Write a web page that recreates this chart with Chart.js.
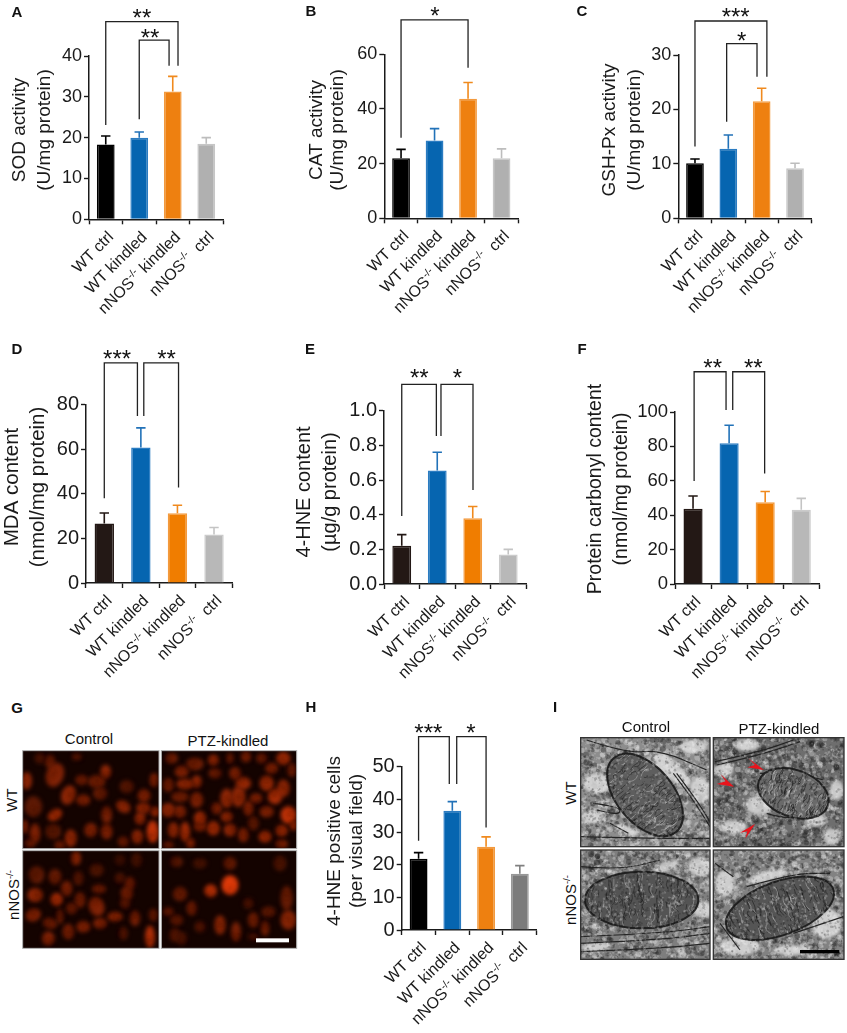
<!DOCTYPE html>
<html>
<head>
<meta charset="utf-8">
<title>Oxidative stress panels</title>
<script src="https://cdn.jsdelivr.net/npm/chart.js@4"></script>
<style>
    html, body { margin: 0; padding: 0; background: #fff; }
    #page { position: relative; width: 847px; height: 1033px; overflow: hidden; font-family: "Liberation Sans", Arial, sans-serif; color: #111; }
    #page canvas { position: absolute; }
    .letter { position: absolute; font-weight: bold; font-size: 15px; transform: translate(-50%, -50%); }
    .cap { position: absolute; font-size: 15px; white-space: nowrap; transform: translate(-50%, -50%); }
    .cap.rot { transform: translate(-50%, -50%) rotate(-90deg); }
    .cap sup { font-size: 9.5px; line-height: 0; }
</style>
</head>
<body>
<div id="page"></div>
<script>
// Categories, same four groups on every bar panel
const groups = ['WT ctrl', 'WT kindled', 'nNOS-/- kindled', 'nNOS-/-  ctrl'];

// Bar heights and top of the error bars
const sodMeans = [18.3, 20, 31.3, 18.5];
const sodTops = [20.4, 21.4, 35, 20];
const catMeans = [22, 28.5, 43.7, 22];
const catTops = [25.2, 32.8, 49.7, 25.4];
const gshMeans = [10.1, 12.8, 21.5, 9.2];
const gshTops = [10.9, 15.3, 23.9, 10.1];
const mdaMeans = [26.7, 60.8, 31.3, 21.8];
const mdaTops = [31.4, 69.6, 34.9, 24.9];
const hneMeans = [0.22, 0.655, 0.38, 0.17];
const hneTops = [0.285, 0.76, 0.447, 0.2];
const carbonylMeans = [43.8, 81.8, 47.5, 43.2];
const carbonylTops = [51.2, 92.3, 53.8, 49.8];
const cellMeans = [21.8, 36.5, 25.5, 17.2];
const cellTops = [23.7, 39.3, 28.5, 19.7];

// Significance brackets: from, to (category), top, left end, right end (axis units)
const sodBrackets = [[0, 2.157, 48.4, 23.1, 37.6], [1, 1.89, 43.9, 24.5, 37.6]];
const catBrackets = [[0, 2, 72.6, 29.5, 55.1]];
const gshBrackets = [[0, 2.156, 36.25, 13.2, 26], [0.95, 1.86, 32.1, 17.75, 26]];
const mdaBrackets = [[0, 0.906, 98.8, 38, 74.9], [1.08, 2.03, 98.8, 74.9, 42.9]];
const hneBrackets = [[0, 0.975, 1.152, 0.392, 0.854], [1.105, 2.007, 1.152, 0.854, 0.542]];
const carbonylBrackets = [[0.03, 0.915, 123.4, 59.9, 101.2], [1.1, 1.985, 123.4, 101.2, 64.3]];
const cellBrackets = [[0, 0.91, 59.2, 27.3, 44.7], [1.13, 2, 59.2, 44.7, 31.4]];

// Stars: text, category position, height in axis units
const sodStars = [['**', 1.08, 50.6], ['**', 1.32, 45.7]];
const catStars = [['*', 1.01, 76.2]];
const gshStars = [['***', 1.22, 38.1], ['*', 1.4, 33.7]];
const mdaStars = [['***', 0.35, 103.2], ['**', 1.7, 103.2]];
const hneStars = [['**', 0.495, 1.22], ['*', 1.565, 1.22]];
const carbonylStars = [['**', 0.545, 128.9], ['**', 1.67, 128.9]];
const cellStars = [['***', 0.29, 62.2], ['*', 1.55, 62.2]];

// Colours
const fillA = ['#000000', '#0665b0', '#ee8010', '#b0b0b0'];
const edgeA = ['#000000', '#2b7cc2', '#f39a3e', '#c6c6c6'];
const errA = ['#000000', '#2272b8', '#f08a1e', '#bdbdbd'];
const fillD = ['#231815', '#0665b0', '#f07d00', '#b8b8b8'];
const edgeD = ['#231815', '#2b7cc2', '#f39a3e', '#cbcbcb'];
const errD = ['#231815', '#2272b8', '#f08a1e', '#c4c4c4'];
const fillH = ['#000000', '#0665b0', '#ee8010', '#7b7b7b'];
const edgeH = ['#000000', '#2b7cc2', '#f39a3e', '#989898'];
const errH = ['#000000', '#2272b8', '#f08a1e', '#808080'];

const panels = [
    { box: [0, 0, 280, 330], x0: 89, x1: 223, top: 56, bottom: 219.3, max: 40, step: 10, font: 18, titleSize: 19,
      means: sodMeans, tops: sodTops, brackets: sodBrackets, stars: sodStars, fill: fillA, edge: edgeA, err: errA,
      title: ['SOD activity', '(U/mg protein)'], titleX: [20, 45], titleY: 130 },
    { box: [280, 0, 280, 330], x0: 384.3, x1: 518.3, top: 54.3, bottom: 218.3, max: 60, step: 20, font: 18, titleSize: 19,
      means: catMeans, tops: catTops, brackets: catBrackets, stars: catStars, fill: fillA, edge: edgeA, err: errA,
      title: ['CAT activity', '(U/mg protein)'], titleX: [316.7, 338], titleY: 130 },
    { box: [560, 0, 287, 330], x0: 678.3, x1: 811.7, top: 55, bottom: 218.3, max: 30, step: 10, font: 18, titleSize: 19,
      means: gshMeans, tops: gshTops, brackets: gshBrackets, stars: gshStars, fill: fillA, edge: edgeA, err: errA,
      title: ['GSH-Px activity', '(U/mg protein)'], titleX: [610, 635], titleY: 130 },
    { box: [0, 335, 280, 350], x0: 86, x1: 232.3, top: 404.7, bottom: 583, max: 80, step: 20, font: 20, titleSize: 20.5,
      means: mdaMeans, tops: mdaTops, brackets: mdaBrackets, stars: mdaStars, fill: fillD, edge: edgeD, err: errD,
      title: ['MDA content', '(nmol/mg protein)'], titleX: [12, 38], titleY: 487 },
    { box: [280, 335, 280, 350], x0: 384, x1: 526, top: 410.7, bottom: 584, max: 1, step: 0.2, font: 20, decimals: 1, titleSize: 20,
      means: hneMeans, tops: hneTops, brackets: hneBrackets, stars: hneStars, fill: fillD, edge: edgeD, err: errD,
      title: ['4-HNE content', '(\u00b5g/g protein)'], titleX: [304, 330], titleY: 492 },
    { box: [560, 335, 287, 350], x0: 675, x1: 819.3, top: 412, bottom: 584, max: 100, step: 20, font: 18.5, titleSize: 19.5,
      means: carbonylMeans, tops: carbonylTops, brackets: carbonylBrackets, stars: carbonylStars, fill: fillD, edge: edgeD, err: errD,
      title: ['Protein carbonyl content', '(nmol/mg protein)'], titleX: [596, 622], titleY: 489 },
    { box: [300, 700, 260, 333], x0: 401.7, x1: 536.7, top: 766.7, bottom: 930, max: 50, step: 10, font: 20, titleSize: 19,
      means: cellMeans, tops: cellTops, brackets: cellBrackets, stars: cellStars, fill: fillH, edge: edgeH, err: errH,
      title: ['4-HNE positive cells', '(per visual field)'], titleX: [335, 357], titleY: 841 }
];

const page = document.getElementById('page');
const fontFamily = '"Liberation Sans", Arial, sans-serif';
const inkColor = '#1a1a1a';

function addCanvas(left, top, width, height) {
    const canvas = document.createElement('canvas');
    canvas.width = width;
    canvas.height = height;
    canvas.style.left = left + 'px';
    canvas.style.top = top + 'px';
    canvas.style.width = width + 'px';
    canvas.style.height = height + 'px';
    page.appendChild(canvas);
    return canvas;
}

// Rotated x labels, the -/- part goes up as a superscript
function drawGroupLabel(ctx, text, x, y) {
    const parts = text.split('-/-');
    const bigFont = '16px ' + fontFamily;
    const smallFont = '10.5px ' + fontFamily;
    ctx.save();
    ctx.translate(x, y);
    ctx.rotate(-Math.PI / 4);
    ctx.textAlign = 'left';
    ctx.textBaseline = 'alphabetic';
    ctx.fillStyle = inkColor;
    ctx.font = bigFont;
    let total = ctx.measureText(parts.join('')).width;
    if (parts.length > 1) {
        ctx.font = smallFont;
        total += ctx.measureText('-/-').width;
    }
    let pos = -total;
    ctx.font = bigFont;
    ctx.fillText(parts[0], pos, 5);
    pos += ctx.measureText(parts[0]).width;
    if (parts.length > 1) {
        ctx.font = smallFont;
        ctx.fillText('-/-', pos, -1);
        pos += ctx.measureText('-/-').width;
        ctx.font = bigFont;
        ctx.fillText(parts[1], pos, 5);
    }
    ctx.restore();
}

function makeBarPanel(panel) {
    const [left, top, width, height] = panel.box;
    const canvas = addCanvas(left, top, width, height);

    const extras = {
        id: 'panelExtras',
        afterDatasetsDraw(chart) {
            const ctx = chart.ctx;
            const xs = chart.scales.x;
            const ys = chart.scales.y;
            const atCat = c => xs.getPixelForValue(0) + c * (xs.getPixelForValue(1) - xs.getPixelForValue(0));

            // Error bars, upper side only
            panel.tops.forEach((value, i) => {
                const x = xs.getPixelForValue(i);
                ctx.strokeStyle = panel.err[i];
                ctx.lineWidth = 1.6;
                ctx.beginPath();
                ctx.moveTo(x, ys.getPixelForValue(panel.means[i]));
                ctx.lineTo(x, ys.getPixelForValue(value));
                ctx.moveTo(x - 4.7, ys.getPixelForValue(value));
                ctx.lineTo(x + 4.7, ys.getPixelForValue(value));
                ctx.stroke();
            });

            // Brackets
            ctx.strokeStyle = '#222';
            ctx.lineWidth = 1.3;
            panel.brackets.forEach(b => {
                ctx.beginPath();
                ctx.moveTo(atCat(b[0]), ys.getPixelForValue(b[3]));
                ctx.lineTo(atCat(b[0]), ys.getPixelForValue(b[2]));
                ctx.lineTo(atCat(b[1]), ys.getPixelForValue(b[2]));
                ctx.lineTo(atCat(b[1]), ys.getPixelForValue(b[4]));
                ctx.stroke();
            });

            // Stars
            ctx.fillStyle = '#111';
            ctx.font = '24px ' + fontFamily;
            ctx.textAlign = 'center';
            ctx.textBaseline = 'alphabetic';
            panel.stars.forEach(s => {
                ctx.fillText(s[0], atCat(s[1]), ys.getPixelForValue(s[2]) + 13.7);
            });

            // Group labels
            groups.forEach((label, i) => {
                drawGroupLabel(ctx, label, xs.getPixelForValue(i) + 5, ys.bottom + 15);
            });

            // Y axis title
            ctx.fillStyle = inkColor;
            ctx.font = panel.titleSize + 'px ' + fontFamily;
            ctx.textAlign = 'center';
            ctx.textBaseline = 'middle';
            panel.title.forEach((line, i) => {
                ctx.save();
                ctx.translate(panel.titleX[i] - left, panel.titleY - top);
                ctx.rotate(-Math.PI / 2);
                ctx.fillText(line, 0, 0);
                ctx.restore();
            });
        }
    };

    new Chart(canvas.getContext('2d'), {
        type: 'bar',
        data: {
            labels: groups,
            datasets: [{
                data: panel.means,
                backgroundColor: panel.fill,
                borderColor: panel.edge,
                borderWidth: 1.5,
                categoryPercentage: 1,
                barPercentage: 0.53
            }]
        },
        options: {
            responsive: false,
            animation: false,
            layout: { padding: { top: panel.top - top, right: left + width - panel.x1, left: 0, bottom: 0 } },
            plugins: { legend: { display: false }, tooltip: { enabled: false } },
            scales: {
                x: {
                    grid: { drawOnChartArea: false, tickLength: 5, tickColor: inkColor, tickWidth: 1.4 },
                    border: { color: inkColor, width: 1.5 },
                    ticks: { display: false },
                    afterFit(scale) { scale.height = top + height - panel.bottom; }
                },
                y: {
                    min: 0,
                    max: panel.max,
                    grid: { drawOnChartArea: false, tickLength: 5, tickColor: inkColor, tickWidth: 1.4 },
                    border: { color: inkColor, width: 1.5 },
                    ticks: {
                        stepSize: panel.step,
                        padding: 2,
                        color: inkColor,
                        font: { size: panel.font, family: fontFamily },
                        callback: value => panel.decimals ? value.toFixed(panel.decimals) : value
                    },
                    afterFit(scale) { scale.width = panel.x0 - left; }
                }
            }
        },
        plugins: [extras]
    });
}

panels.forEach(makeBarPanel);

// Panel letters
const letters = [['A', 17, 11], ['B', 311, 10], ['C', 582, 10], ['D', 17, 348], ['E', 310, 348],
    ['F', 582, 348], ['G', 17, 707], ['H', 311, 706], ['I', 555, 706]];
letters.forEach(([text, x, y]) => {
    const el = document.createElement('div');
    el.className = 'letter';
    el.textContent = text;
    el.style.left = x + 'px';
    el.style.top = y + 'px';
    page.appendChild(el);
});

// Captions round the two micrograph panels
const captions = [
    ['Control', 89, 738, false], ['PTZ-kindled', 228, 740, false],
    ['WT', 11, 800, true], ['nNOS<sup>-/-</sup>', 13, 895, true],
    ['Control', 646, 726, false], ['PTZ-kindled', 779, 728, false],
    ['WT', 570, 793, true], ['nNOS<sup>-/-</sup>', 570, 900, true]
];
captions.forEach(([html, x, y, rotated]) => {
    const el = document.createElement('div');
    el.className = rotated ? 'cap rot' : 'cap';
    el.innerHTML = html;
    el.style.left = x + 'px';
    el.style.top = y + 'px';
    page.appendChild(el);
});

// Small hash for the picture grain of the micrographs (texture only, not data)
function grain(a, b) {
    const v = Math.sin(a * 12.9898 + b * 78.233) * 43758.5453;
    return v - Math.floor(v);
}

// G: fluorescence micrographs. Nuclei: x, y, rx, ry, tilt in degrees, brightness
const nucleiWtControl = [[80,272,15,25,0,.7],[150,215,15,20,0,.45],[165,255,25,35,20,.6],[100,350,25,30,0,.4],[105,430,15,28,0,.6],
    [165,375,22,15,-30,.8],[205,315,20,28,20,.7],[250,330,20,15,0,.6],[245,270,18,14,0,.5],[290,275,25,18,0,.5],[317,245,15,20,0,.7],
    [300,310,20,18,0,.45],[380,290,20,18,0,.35],[320,375,15,25,0,.55],[272,420,18,20,0,.6],[320,425,16,22,0,.6],[212,445,17,25,0,.7],
    [160,425,22,22,0,.35],[370,350,22,16,30,.7],[432,317,18,18,0,.6],[462,270,12,20,0,.6],[430,355,20,16,0,.7],[420,385,15,18,0,.7],
    [465,365,12,14,0,.8],[412,440,16,20,0,.7],[458,425,17,32,0,1],[370,455,15,14,0,.5],[90,460,15,12,0,.5],[180,465,16,12,0,.5],
    [75,410,8,20,0,.7],[230,200,14,10,0,.4],[120,205,15,15,0,.3]];
const nucleiWtKindled = [[515,205,18,15,0,.5],[545,245,20,17,0,.6],[585,222,25,18,0,.5],[640,210,15,16,0,.7],[690,205,10,15,0,.5],
    [738,200,14,15,0,.6],[785,205,15,14,0,.5],[850,205,20,18,0,.8],[505,285,15,20,0,.5],[555,282,25,15,0,.7],[590,275,14,18,0,.7],
    [645,250,18,14,0,.5],[705,250,16,18,0,.6],[730,280,22,18,0,.75],[815,235,18,15,0,.6],[800,280,20,22,0,.75],[850,295,18,25,0,.7],
    [875,240,12,20,0,.5],[540,320,25,15,0,.5],[590,330,18,22,0,.6],[680,325,18,28,0,.7],[715,320,20,30,0,.7],[768,325,18,14,0,.6],
    [825,320,20,22,0,.85],[505,360,20,20,0,.7],[540,365,17,18,0,.6],[600,385,17,20,0,.8],[650,355,15,16,0,.6],[680,380,17,15,0,.7],
    [745,355,14,22,0,.6],[800,365,20,16,0,.6],[865,375,22,25,0,1],[520,420,15,22,0,.7],[555,425,14,28,0,.8],[600,410,18,13,0,.6],
    [640,415,18,20,0,.8],[690,420,18,18,0,.7],[730,435,15,20,0,.6],[795,440,18,16,0,.8],[845,422,17,17,0,.75],[880,405,10,15,0,.8],
    [572,460,12,14,0,.7],[760,400,15,20,0,.4],[845,462,18,12,0,.6],[505,465,15,10,0,.5]];
const nucleiKoControl = [[228,505,14,20,0,.65],[290,540,20,18,0,.3],[110,555,22,25,0,.4],[165,560,18,22,0,.45],[200,595,16,22,0,.55],
    [235,565,14,20,0,.35],[105,615,22,20,0,.7],[170,628,17,18,0,.85],[240,630,15,22,0,.5],[297,597,20,12,0,.5],[360,565,15,15,0,.3],
    [390,580,14,18,0,.5],[380,610,17,20,0,.5],[290,650,22,28,-20,.6],[345,680,22,13,0,.65],[100,675,22,18,-20,.6],[215,655,16,16,0,.45],
    [150,700,20,15,20,.5],[180,680,10,22,0,.45],[250,710,20,16,0,.6],[300,700,20,15,0,.6],[205,725,16,22,0,.55],[145,745,18,20,0,.6],
    [405,685,14,22,0,.55],[375,640,14,15,0,.4],[450,740,14,32,0,.9],[460,675,12,18,0,.45],[370,730,12,18,0,.35],[410,510,15,20,0,.25],[360,510,15,15,0,.2]];
const nucleiKoKindled = [[530,515,18,15,0,.35],[600,520,20,15,0,.25],[690,520,18,18,0,.45],[690,585,24,28,0,1.2],[632,602,18,18,0,.95],
    [540,612,20,20,0,.45],[575,655,14,20,0,.5],[505,665,15,12,0,.45],[530,690,18,15,0,.4],[660,705,16,28,0,.65],[708,725,14,28,0,.55],
    [600,710,15,15,0,.35],[760,690,15,22,0,.5],[795,715,12,22,0,.5],[805,665,20,15,0,.4],[860,625,17,35,0,.45],[865,690,22,28,0,.65],
    [840,520,18,22,0,.3],[745,640,14,15,0,.3],[525,735,15,20,0,.35],[545,745,15,18,0,.3],[760,740,15,10,0,.3]];

function drawFluorescence() {
    const canvas = addCanvas(0, 690, 300, 280);
    const ctx = canvas.getContext('2d');
    ctx.scale(1 / 3, 1 / 3);
    const frames = [
        [68, 182, 409, 294, nucleiWtControl], [484, 182, 406, 294, nucleiWtKindled],
        [68, 482, 409, 293, nucleiKoControl], [484, 482, 406, 293, nucleiKoKindled]
    ];
    frames.forEach(([x, y, w, h, nuclei]) => {
        ctx.save();
        ctx.beginPath();
        ctx.rect(x, y, w, h);
        ctx.clip();
        ctx.fillStyle = '#140300';
        ctx.fillRect(x, y, w, h);
        ctx.filter = 'blur(2.2px)';
        nuclei.forEach((n, k) => {
            const b = n[5] * 0.85;
            ctx.fillStyle = `rgb(${Math.min(255, 30 + 190 * b)},${10 + 48 * b},${2 + 8 * b})`;
            ctx.beginPath();
            ctx.ellipse(n[0], n[1], n[2] * 1.05, n[3] * 1.05, n[4] * Math.PI / 180, 0, Math.PI * 2);
            ctx.fill();
            // darker spots inside the nucleus
            ctx.fillStyle = 'rgba(30,3,0,0.3)';
            for (let s = 0; s < 6; s++) {
                const sx = n[0] + (grain(k, s) - 0.5) * n[2] * 1.4;
                const sy = n[1] + (grain(s, k + 7) - 0.5) * n[3] * 1.4;
                ctx.beginPath();
                ctx.arc(sx, sy, 4, 0, Math.PI * 2);
                ctx.fill();
            }
        });
        ctx.filter = 'none';
        ctx.restore();
        ctx.strokeStyle = '#a8a8a8';
        ctx.lineWidth = 3;
        ctx.strokeRect(x, y, w, h);
    });
    // scale bar
    ctx.fillStyle = '#fff';
    ctx.fillRect(768, 745, 99, 12);
}

// I: electron micrographs. Light patches, dark membranes and one mitochondrion per frame
const temFrames = [
    { rect: [62, 143, 388, 327], tone: '#8d8d8d', mito: [255, 315, 145, 85, 50, '#5e5e5e'],
      light: [[335, 240, 70, 26, 42], [110, 280, 40, 30, 0], [420, 300, 30, 40, 0], [95, 380, 35, 20, 0], [200, 420, 40, 12, 20], [400, 170, 40, 20, 0]],
      dark: [[[80, 150], [200, 190], [300, 180], [440, 240]], [[340, 250], [400, 330], [450, 410]], [[350, 250], [410, 330], [450, 395]],
             [[100, 340], [180, 350], [180, 375], [110, 360]], [[150, 400], [205, 430]], [[62, 440], [250, 445], [450, 445]]] },
    { rect: [460, 143, 392, 327], tone: '#6e6e6e', mito: [700, 310, 110, 70, 20, '#6a6a6a'],
      light: [[600, 345, 45, 30, 0], [560, 165, 40, 18, 0], [770, 390, 30, 20, 0], [815, 440, 25, 25, 0], [520, 410, 40, 20, 0], [490, 240, 30, 20, 0], [830, 300, 20, 30, 0]],
      dark: [[[465, 215], [600, 185], [700, 150]], [[470, 225], [600, 195], [720, 155]], [[600, 250], [700, 245], [790, 270]], [[620, 370], [700, 395], [780, 350]]] },
    { rect: [62, 480, 388, 328], tone: '#7e7e7e', mito: [245, 630, 170, 85, 0, '#545454'],
      light: [[420, 530, 35, 30, 0], [320, 530, 40, 15, -20], [430, 660, 30, 25, 0], [110, 770, 40, 14, 0]],
      dark: [[[62, 530], [180, 540], [300, 510]], [[62, 740], [300, 730], [450, 710]], [[62, 760], [300, 750], [450, 730]], [[62, 785], [300, 775], [450, 760]]] },
    { rect: [460, 480, 392, 328], tone: '#828282', mito: [660, 655, 170, 80, -20, '#555555'],
      light: [[495, 580, 30, 40, 0], [620, 560, 60, 15, -15], [800, 700, 45, 45, 0], [540, 770, 60, 25, 0], [700, 780, 60, 15, 0]],
      dark: [[[465, 520], [520, 560]], [[700, 730], [850, 680]], [[480, 700], [540, 780]], [[560, 590], [700, 550], [810, 550]]] }
];
// Red arrowheads: tip, barb, notch, barb
const arrowheads = [
    [[612, 240], [565, 205], [585, 225], [562, 232]],
    [[522, 290], [482, 253], [497, 274], [470, 282]],
    [[585, 402], [540, 428], [562, 424], [556, 446]]
];

// Specks over a frame, dark and light mixed
function speckle(ctx, x, y, w, h, count, seed, maxR, alpha) {
    for (let i = 0; i < count; i++) {
        const px = x + grain(i, seed + 1) * w;
        const py = y + grain(seed + 3, i) * h;
        const r = 1.5 + grain(i, i + seed) * maxR;
        ctx.fillStyle = grain(i + 5, seed) > 0.5 ? `rgba(20,20,20,${alpha})` : `rgba(240,240,240,${alpha})`;
        ctx.beginPath();
        ctx.arc(px, py, r, 0, Math.PI * 2);
        ctx.fill();
    }
}

function drawElectronMicrographs() {
    const canvas = addCanvas(560, 690, 287, 280);
    const ctx = canvas.getContext('2d');
    ctx.scale(1 / 3, 1 / 3);
    temFrames.forEach((frame, f) => {
        const [x, y, w, h] = frame.rect;
        ctx.save();
        ctx.beginPath();
        ctx.rect(x, y, w, h);
        ctx.clip();
        ctx.fillStyle = frame.tone;
        ctx.fillRect(x, y, w, h);

        // mottled cytoplasm
        speckle(ctx, x, y, w, h, 900, f + 1, 8, 0.3);

        ctx.filter = 'blur(1.5px)';
        frame.light.forEach(p => {
            ctx.fillStyle = 'rgba(225,225,225,0.8)';
            ctx.beginPath();
            ctx.ellipse(p[0], p[1], p[2], p[3], p[4] * Math.PI / 180, 0, Math.PI * 2);
            ctx.fill();
        });
        ctx.filter = 'none';

        ctx.strokeStyle = '#262626';
        ctx.lineWidth = 3.5;
        frame.dark.forEach(pts => {
            ctx.beginPath();
            ctx.moveTo(pts[0][0], pts[0][1]);
            for (let i = 1; i < pts.length - 1; i++) {
                ctx.quadraticCurveTo(pts[i][0], pts[i][1], (pts[i][0] + pts[i + 1][0]) / 2, (pts[i][1] + pts[i + 1][1]) / 2);
            }
            ctx.lineTo(pts[pts.length - 1][0], pts[pts.length - 1][1]);
            ctx.stroke();
        });

        // mitochondrion with short broken cristae
        const [cx, cy, rx, ry, tilt, fill] = frame.mito;
        ctx.save();
        ctx.translate(cx, cy);
        ctx.rotate(tilt * Math.PI / 180);
        ctx.beginPath();
        ctx.ellipse(0, 0, rx, ry, 0, 0, Math.PI * 2);
        ctx.fillStyle = fill;
        ctx.fill();
        ctx.save();
        ctx.clip();
        for (let i = 0; i < 170; i++) {
            const ax = -rx + grain(i, f + 11) * 2 * rx;
            const ay = -ry + grain(f + 13, i) * 2 * ry;
            const len = 10 + grain(i + 2, f) * 30;
            const lean = (grain(i, f + 17) - 0.5) * 26;
            ctx.strokeStyle = i % 3 === 0 ? 'rgba(200,200,200,0.5)' : 'rgba(25,25,25,0.6)';
            ctx.lineWidth = 2.5;
            ctx.beginPath();
            ctx.moveTo(ax, ay);
            ctx.quadraticCurveTo(ax + lean, ay + len / 2, ax - lean * 0.3, ay + len);
            ctx.stroke();
        }
        ctx.restore();
        ctx.beginPath();
        ctx.ellipse(0, 0, rx, ry, 0, 0, Math.PI * 2);
        ctx.strokeStyle = 'rgba(25,25,25,0.9)';
        ctx.lineWidth = 6;
        ctx.stroke();
        ctx.restore();

        // fine grain over everything, then soften
        speckle(ctx, x, y, w, h, 1400, f + 21, 3, 0.22);
        ctx.restore();

        ctx.strokeStyle = '#333';
        ctx.lineWidth = 4;
        ctx.strokeRect(x, y, w, h);
    });

    ctx.fillStyle = '#e8141c';
    arrowheads.forEach(a => {
        ctx.beginPath();
        ctx.moveTo(a[0][0], a[0][1]);
        a.slice(1).forEach(p => ctx.lineTo(p[0], p[1]));
        ctx.closePath();
        ctx.fill();
    });

    // scale bar
    ctx.fillStyle = '#000';
    ctx.fillRect(720, 780, 118, 10);
}

drawFluorescence();
drawElectronMicrographs();
</script>
</body>
</html>
